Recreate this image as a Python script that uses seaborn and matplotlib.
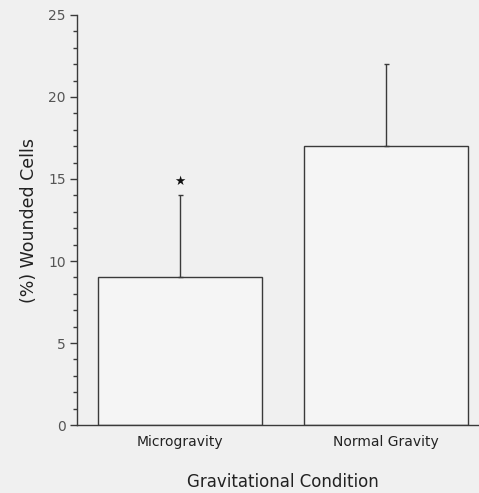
import numpy as np
import pandas as pd
import matplotlib
matplotlib.use("Agg")
import matplotlib.pyplot as plt
import seaborn as sns
from matplotlib.ticker import MultipleLocator

# Data
conditions = ["Microgravity", "Normal Gravity"]
wounded_pct = [9, 17]
error_up = [5, 5]
significant = [True, False]

sns.set_theme(style="white")
plt.rcParams["font.family"] = ["DejaVu Sans"]

bg = "#f0f0f0"
ink = "#3a3a3a"

fig = plt.figure(figsize=(4.79, 4.93), dpi=100, facecolor=bg)
ax = fig.add_axes([0.1608, 0.1379, 0.860, 0.8317])
ax.set_facecolor(bg)

df = pd.DataFrame({"Condition": conditions, "Wounded": wounded_pct})
sns.barplot(data=df, x="Condition", y="Wounded", color="#f5f5f5",
            edgecolor=ink, linewidth=1.0, width=0.8, ax=ax, errorbar=None,
            saturation=1)

xpos = np.arange(len(conditions))
ax.errorbar(xpos, wounded_pct, yerr=[np.zeros(len(error_up)), error_up],
            fmt="none", ecolor=ink, elinewidth=1.0, capsize=1.8, capthick=1.0,
            zorder=1)

for x, m, e, s in zip(xpos, wounded_pct, error_up, significant):
    if s:
        ax.text(x, m + e + 0.45, "★", ha="center", va="bottom",
                fontsize=9, color="#111111")

ax.set_xlim(-0.5, 1.5)
ax.set_ylim(0, 25)
ax.yaxis.set_major_locator(MultipleLocator(5))
ax.yaxis.set_minor_locator(MultipleLocator(1))

for side in ["top", "right"]:
    ax.spines[side].set_visible(False)
for side in ["left", "bottom"]:
    ax.spines[side].set_color(ink)
    ax.spines[side].set_linewidth(1.0)

ax.tick_params(axis="y", which="major", direction="out", length=5, width=1,
               color=ink, labelsize=10, labelcolor="#555555", pad=3, left=True)
ax.tick_params(axis="y", which="minor", direction="out", length=3, width=1,
               color=ink, left=True)
ax.tick_params(axis="x", length=0, pad=7, labelsize=10, labelcolor="#222222")

ax.set_xlabel("Gravitational Condition", fontsize=12, color="#222222")
ax.set_ylabel("(%) Wounded Cells", fontsize=12.5, color="#222222")
ax.xaxis.set_label_coords(0.5, -0.118)
ax.yaxis.set_label_coords(-0.095, 0.5)

fig.savefig("out.png", dpi=100, facecolor=bg)
